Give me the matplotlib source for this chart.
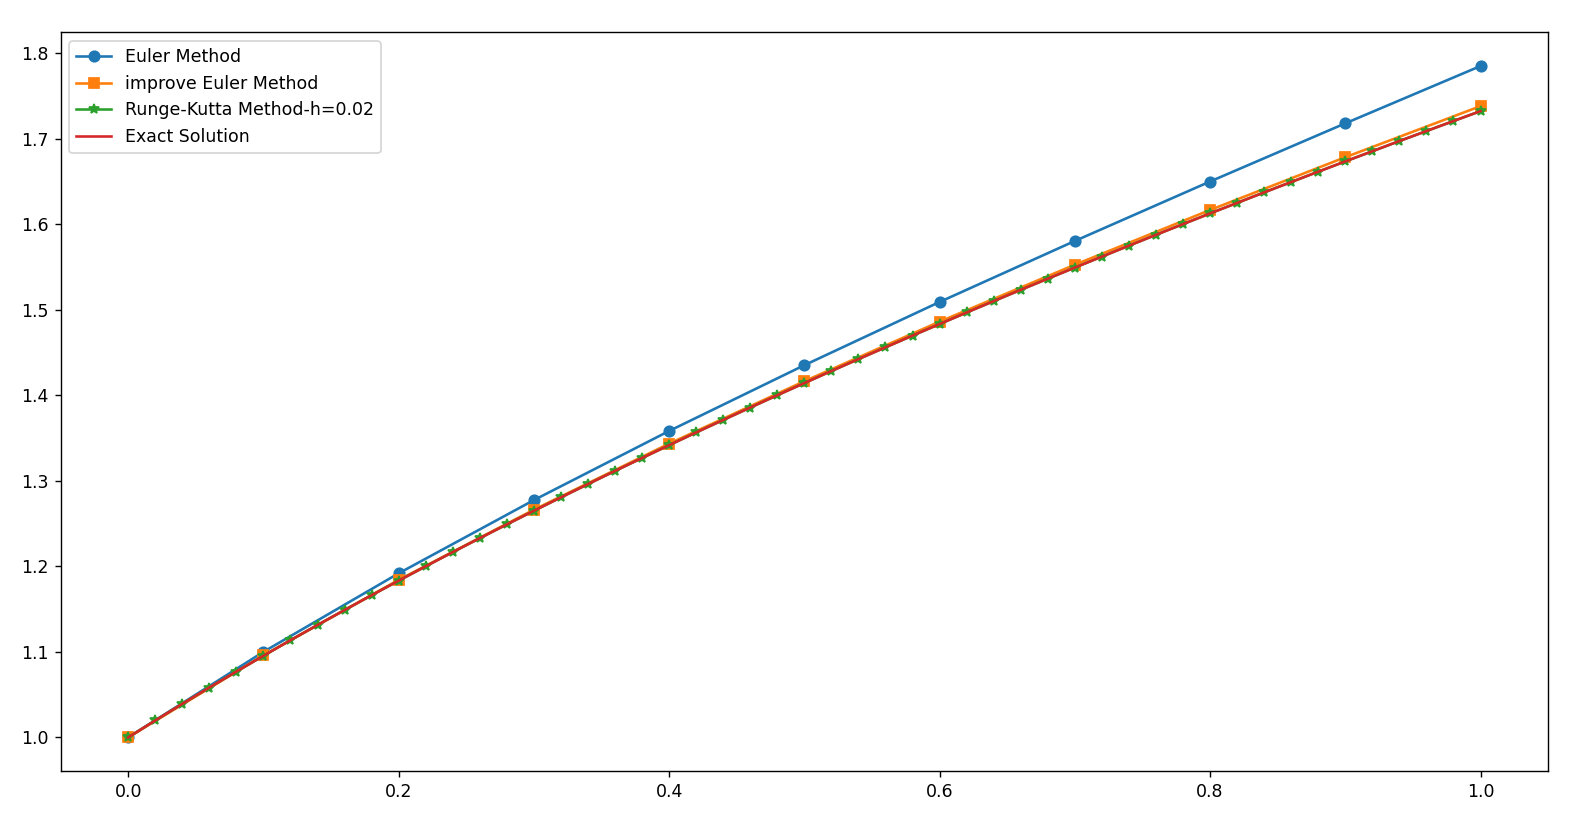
import matplotlib
matplotlib.use("Agg")
import matplotlib.pyplot as plt

x_h01 = [0.0, 0.1, 0.2, 0.3, 0.4, 0.5, 0.6, 0.7, 0.8, 0.9, 1.0]
euler = [1.0, 1.1, 1.1918, 1.2774, 1.3582, 1.4351, 1.5090, 1.5803, 1.6498, 1.7178, 1.7848]
improved_euler = [1.0, 1.0959, 1.1841, 1.2662, 1.3434, 1.4164, 1.4860, 1.5525, 1.6165, 1.6782, 1.7379]

x_h002 = [0.0, 0.02, 0.04, 0.06, 0.08, 0.10, 0.12, 0.14, 0.16, 0.18,
          0.20, 0.22, 0.24, 0.26, 0.28, 0.30, 0.32, 0.34, 0.36, 0.38,
          0.40, 0.42, 0.44, 0.46, 0.48, 0.50, 0.52, 0.54, 0.56, 0.58,
          0.60, 0.62, 0.64, 0.66, 0.68, 0.70, 0.72, 0.74, 0.76, 0.78,
          0.80, 0.82, 0.84, 0.86, 0.88, 0.90, 0.92, 0.94, 0.96, 0.98, 1.00]
runge_kutta = [1.0, 1.0198, 1.0392, 1.0583, 1.0770, 1.0954, 1.1136, 1.1314, 1.1489, 1.1662,
               1.1832, 1.2000, 1.2166, 1.2329, 1.2490, 1.2649, 1.2806, 1.2961, 1.3115, 1.3266,
               1.3416, 1.3565, 1.3711, 1.3856, 1.4000, 1.4142, 1.4283, 1.4422, 1.4560, 1.4697,
               1.4832, 1.4967, 1.5100, 1.5232, 1.5362, 1.5492, 1.5620, 1.5748, 1.5875, 1.6000,
               1.6125, 1.6248, 1.6371, 1.6492, 1.6613, 1.6733, 1.6852, 1.6971, 1.7088, 1.7205, 1.7321]
exact = list(runge_kutta)

labels = ["Euler Method", "improve Euler Method", "Runge-Kutta Method-h=0.02", "Exact Solution"]

fig = plt.figure(figsize=(1577 / 125, 826 / 125), dpi=125)
ax = fig.add_axes([0.0384, 0.0666, 0.9433, 0.8941])
ax.plot(x_h01, euler, marker="o", label=labels[0])
ax.plot(x_h01, improved_euler, marker="s", label=labels[1])
ax.plot(x_h002, runge_kutta, marker="*", label=labels[2])
ax.plot(x_h002, exact, label=labels[3])
ax.legend(loc="upper left")
fig.savefig("out.png", dpi=125)
